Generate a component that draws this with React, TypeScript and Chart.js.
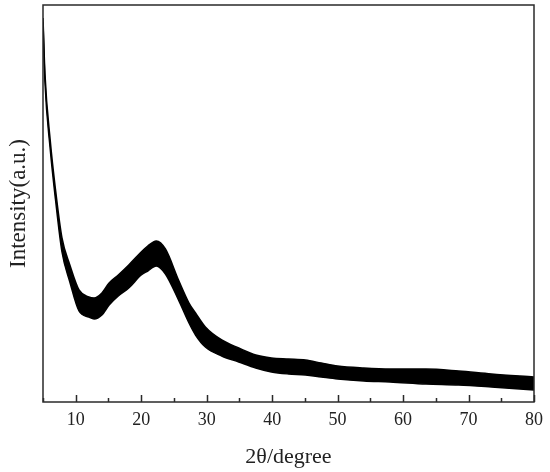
import React, { useEffect, useRef } from "react";
import { Chart, registerables } from "chart.js";

Chart.register(...registerables);

const twoTheta = [
  5.0, 5.3, 6.1, 6.9, 7.9, 9.1, 10.5, 12.0, 12.8, 14.0, 15.1, 16.5, 18.1, 20.0,
  21.0, 22.3, 23.7, 25.7, 27.3, 28.3, 29.8, 32.3, 34.9, 37.5, 39.9, 42.5, 45.1,
  47.5, 50.0, 54.0, 58.0, 63.5, 68.5, 73.5, 80.0,
];
// upper edge of the noisy band (a.u.)
const upperIntensity = [
  384, 328, 262, 213, 164, 137, 112, 105, 104, 109, 119, 127, 137, 150,
  156, 161, 153, 122, 99, 89, 75, 62, 54, 47, 44, 43, 42,
  39, 36, 34, 33, 33, 31, 28, 25,
];
// lower edge of the noisy band (a.u.)
const lowerIntensity = [
  380, 320, 253, 203, 150, 120, 91, 85, 83, 87, 97, 106, 114, 127,
  131, 136, 128, 102, 79, 67, 55, 46, 40, 34, 30, 28, 27,
  25, 23, 21, 20, 18, 17, 15, 12,
];
const xTicks = [5, 10, 15, 20, 25, 30, 35, 40, 45, 50, 55, 60, 65, 70, 75, 80];
const xTitle = "2θ/degree";
const yTitle = "Intensity(a.u.)";

const FONT = "'Liberation Serif', 'Times New Roman', serif";

const framePlugin = {
  id: "frameAndTicks",
  afterDatasetsDraw(chart: any) {
    const { ctx, chartArea, scales } = chart;
    const xs = scales.x;
    ctx.save();
    ctx.strokeStyle = "#2a2a2a";
    ctx.lineWidth = 1.5;
    ctx.strokeRect(
      chartArea.left,
      chartArea.top,
      chartArea.right - chartArea.left,
      chartArea.bottom - chartArea.top
    );
    ctx.beginPath();
    for (const v of xTicks) {
      const px = Math.round(xs.getPixelForValue(v)) + 0.5;
      const len = v % 10 === 0 ? 7 : 4;
      ctx.moveTo(px, chartArea.bottom);
      ctx.lineTo(px, chartArea.bottom - len);
    }
    ctx.stroke();
    ctx.restore();
  },
};

export default function App() {
  const ref = useRef<HTMLCanvasElement | null>(null);

  useEffect(() => {
    document.body.style.margin = "0";
    const canvas = ref.current;
    if (!canvas) return;
    const upper = twoTheta.map((x, i) => ({ x, y: upperIntensity[i] }));
    const lower = twoTheta.map((x, i) => ({ x, y: lowerIntensity[i] }));
    const chart = new Chart(canvas, {
      type: "line",
      data: {
        datasets: [
          {
            data: upper,
            borderColor: "#000",
            borderWidth: 1.5,
            pointRadius: 0,
            fill: false,
            cubicInterpolationMode: "monotone",
          },
          {
            data: lower,
            borderColor: "#000",
            borderWidth: 1.5,
            backgroundColor: "#000",
            pointRadius: 0,
            fill: "-1",
            cubicInterpolationMode: "monotone",
          },
        ],
      },
      options: {
        responsive: false,
        animation: false,
        layout: { padding: { top: 5, right: 14, left: 0, bottom: 0 } },
        plugins: {
          legend: { display: false },
          tooltip: { enabled: false },
        },
        scales: {
          x: {
            type: "linear",
            min: 5,
            max: 80,
            afterFit: (s: any) => {
              s.height = 70;
            },
            afterBuildTicks: (s: any) => {
              s.ticks = xTicks.map((v) => ({ value: v }));
            },
            ticks: {
              autoSkip: false,
              maxRotation: 0,
              padding: 7,
              color: "#222",
              font: { family: FONT, size: 18 },
              callback: (v: any) => (Number(v) % 10 === 0 ? String(v) : ""),
            },
            grid: { display: false, drawTicks: false },
            border: { display: false },
            title: {
              display: true,
              text: xTitle,
              color: "#222",
              font: { family: FONT, size: 22 },
              padding: { top: 0, bottom: 2 },
            },
          },
          y: {
            type: "linear",
            min: 0,
            max: 397,
            afterFit: (s: any) => {
              s.width = 43;
            },
            ticks: { display: false },
            grid: { display: false, drawTicks: false },
            border: { display: false },
            title: {
              display: true,
              text: yTitle,
              color: "#222",
              font: { family: FONT, size: 23 },
              padding: { top: 5, bottom: 0 },
            },
          },
        },
      },
      plugins: [framePlugin],
    });
    return () => chart.destroy();
  }, []);

  return (
    <canvas
      ref={ref}
      width={550}
      height={472}
      style={{ display: "block", width: 550, height: 472 }}
    />
  );
}
